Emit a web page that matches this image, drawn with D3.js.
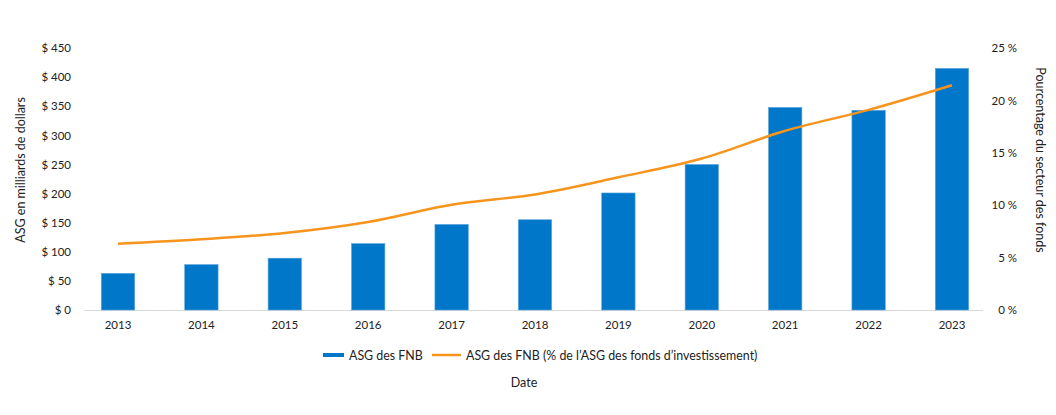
<!DOCTYPE html>
<html><head><meta charset="utf-8">
<script src="https://cdn.jsdelivr.net/npm/d3@7"></script>
<style>
body{margin:0;background:#fff;}
svg text{font-family:Lato, "Liberation Sans", sans-serif;fill:#222;}
</style></head>
<body><svg id="c" width="1056" height="415"></svg>
<script>
const years = ["2013","2014","2015","2016","2017","2018","2019","2020","2021","2022","2023"];
const aum = [63, 78, 89, 114, 147, 155, 201, 250, 348, 343, 415];
const pct = [6.33, 6.75, 7.35, 8.4, 10.05, 11.03, 12.66, 14.45, 17.1, 19.1, 21.45];
const leftTicks = [0,50,100,150,200,250,300,350,400,450];
const rightTicks = [0,5,10,15,20,25];
const seriesNames = ["ASG des FNB", "ASG des FNB (% de l\u2019ASG des fonds d\u2019investissement)"];
const leftTitle = "ASG en milliards de dollars";
const rightTitle = "Pourcentage du secteur des fonds";
const xTitle = "Date";

const svg = d3.select("#c");
const plotTop = 48, plotBottom = 310;
const x = d3.scaleBand().domain(years).range([76.3, 993.7]).paddingInner(0.6).paddingOuter(0.3);
const yL = d3.scaleLinear().domain([0,450]).range([plotBottom, plotTop]);
const yR = d3.scaleLinear().domain([0,25]).range([plotBottom, plotTop]);
const blue = "#0077c8", orange = "#f7941d";

// baseline
svg.append("line").attr("x1",84).attr("x2",983).attr("y1",plotBottom+0.5).attr("y2",plotBottom+0.5)
  .attr("stroke","#d9d9d9").attr("stroke-width",1);

// bars
svg.append("g").selectAll("rect").data(years).join("rect")
  .attr("x", d=>x(d)).attr("width", x.bandwidth())
  .attr("y", (d,i)=>yL(aum[i])).attr("height",(d,i)=>plotBottom-yL(aum[i]))
  .attr("fill", blue).attr("stroke","#5aa5dc").attr("stroke-width",0.6);

// line
const line = d3.line().x((d,i)=>x(years[i])+x.bandwidth()/2).y(d=>yR(d)).curve(d3.curveCatmullRom.alpha(0.5));
svg.append("path").datum(pct).attr("d",line).attr("fill","none").attr("stroke",orange).attr("stroke-width",2.5);

// left axis
const gl = svg.append("g").attr("transform","translate(71,0)")
  .call(d3.axisLeft(yL).tickValues(leftTicks).tickSize(0).tickPadding(0).tickFormat(d=>"$ "+d));
gl.select(".domain").remove();
gl.selectAll("text").attr("font-size",11.5).style("font-family","Lato").style("fill","#222");

// right axis
const gr = svg.append("g").attr("transform","translate(1017,0)")
  .call(d3.axisLeft(yR).tickValues(rightTicks).tickSize(0).tickPadding(0).tickFormat(d=>d+" %"));
gr.select(".domain").remove();
gr.selectAll("text").attr("font-size",11.5).style("font-family","Lato").style("fill","#222");

// x axis
const gx = svg.append("g").attr("transform",`translate(0,${plotBottom})`)
  .call(d3.axisBottom(x).tickSize(0).tickPadding(11));
gx.select(".domain").remove();
gx.selectAll("text").attr("font-size",11.5).style("font-family","Lato").style("fill","#222");

// titles
svg.append("text").attr("transform","translate(25,170) rotate(-90)").attr("text-anchor","middle")
  .attr("font-size",12.5).text(leftTitle);
svg.append("text").attr("transform","translate(1036,160) rotate(90)").attr("text-anchor","middle")
  .attr("font-size",12.5).text(rightTitle);
svg.append("text").attr("x",524).attr("y",387).attr("text-anchor","middle").attr("font-size",12.5).text(xTitle);

// legend
const lg = svg.append("g").attr("transform","translate(0,355)");
lg.append("line").attr("x1",323).attr("x2",344).attr("y1",0).attr("y2",0).attr("stroke",blue).attr("stroke-width",4);
lg.append("text").attr("x",349).attr("y",4.5).attr("font-size",12.4).text(seriesNames[0]);
lg.append("line").attr("x1",432).attr("x2",461).attr("y1",0).attr("y2",0).attr("stroke",orange).attr("stroke-width",2.5);
lg.append("text").attr("x",466).attr("y",4.5).attr("font-size",12.4).text(seriesNames[1]);
</script></body></html>
